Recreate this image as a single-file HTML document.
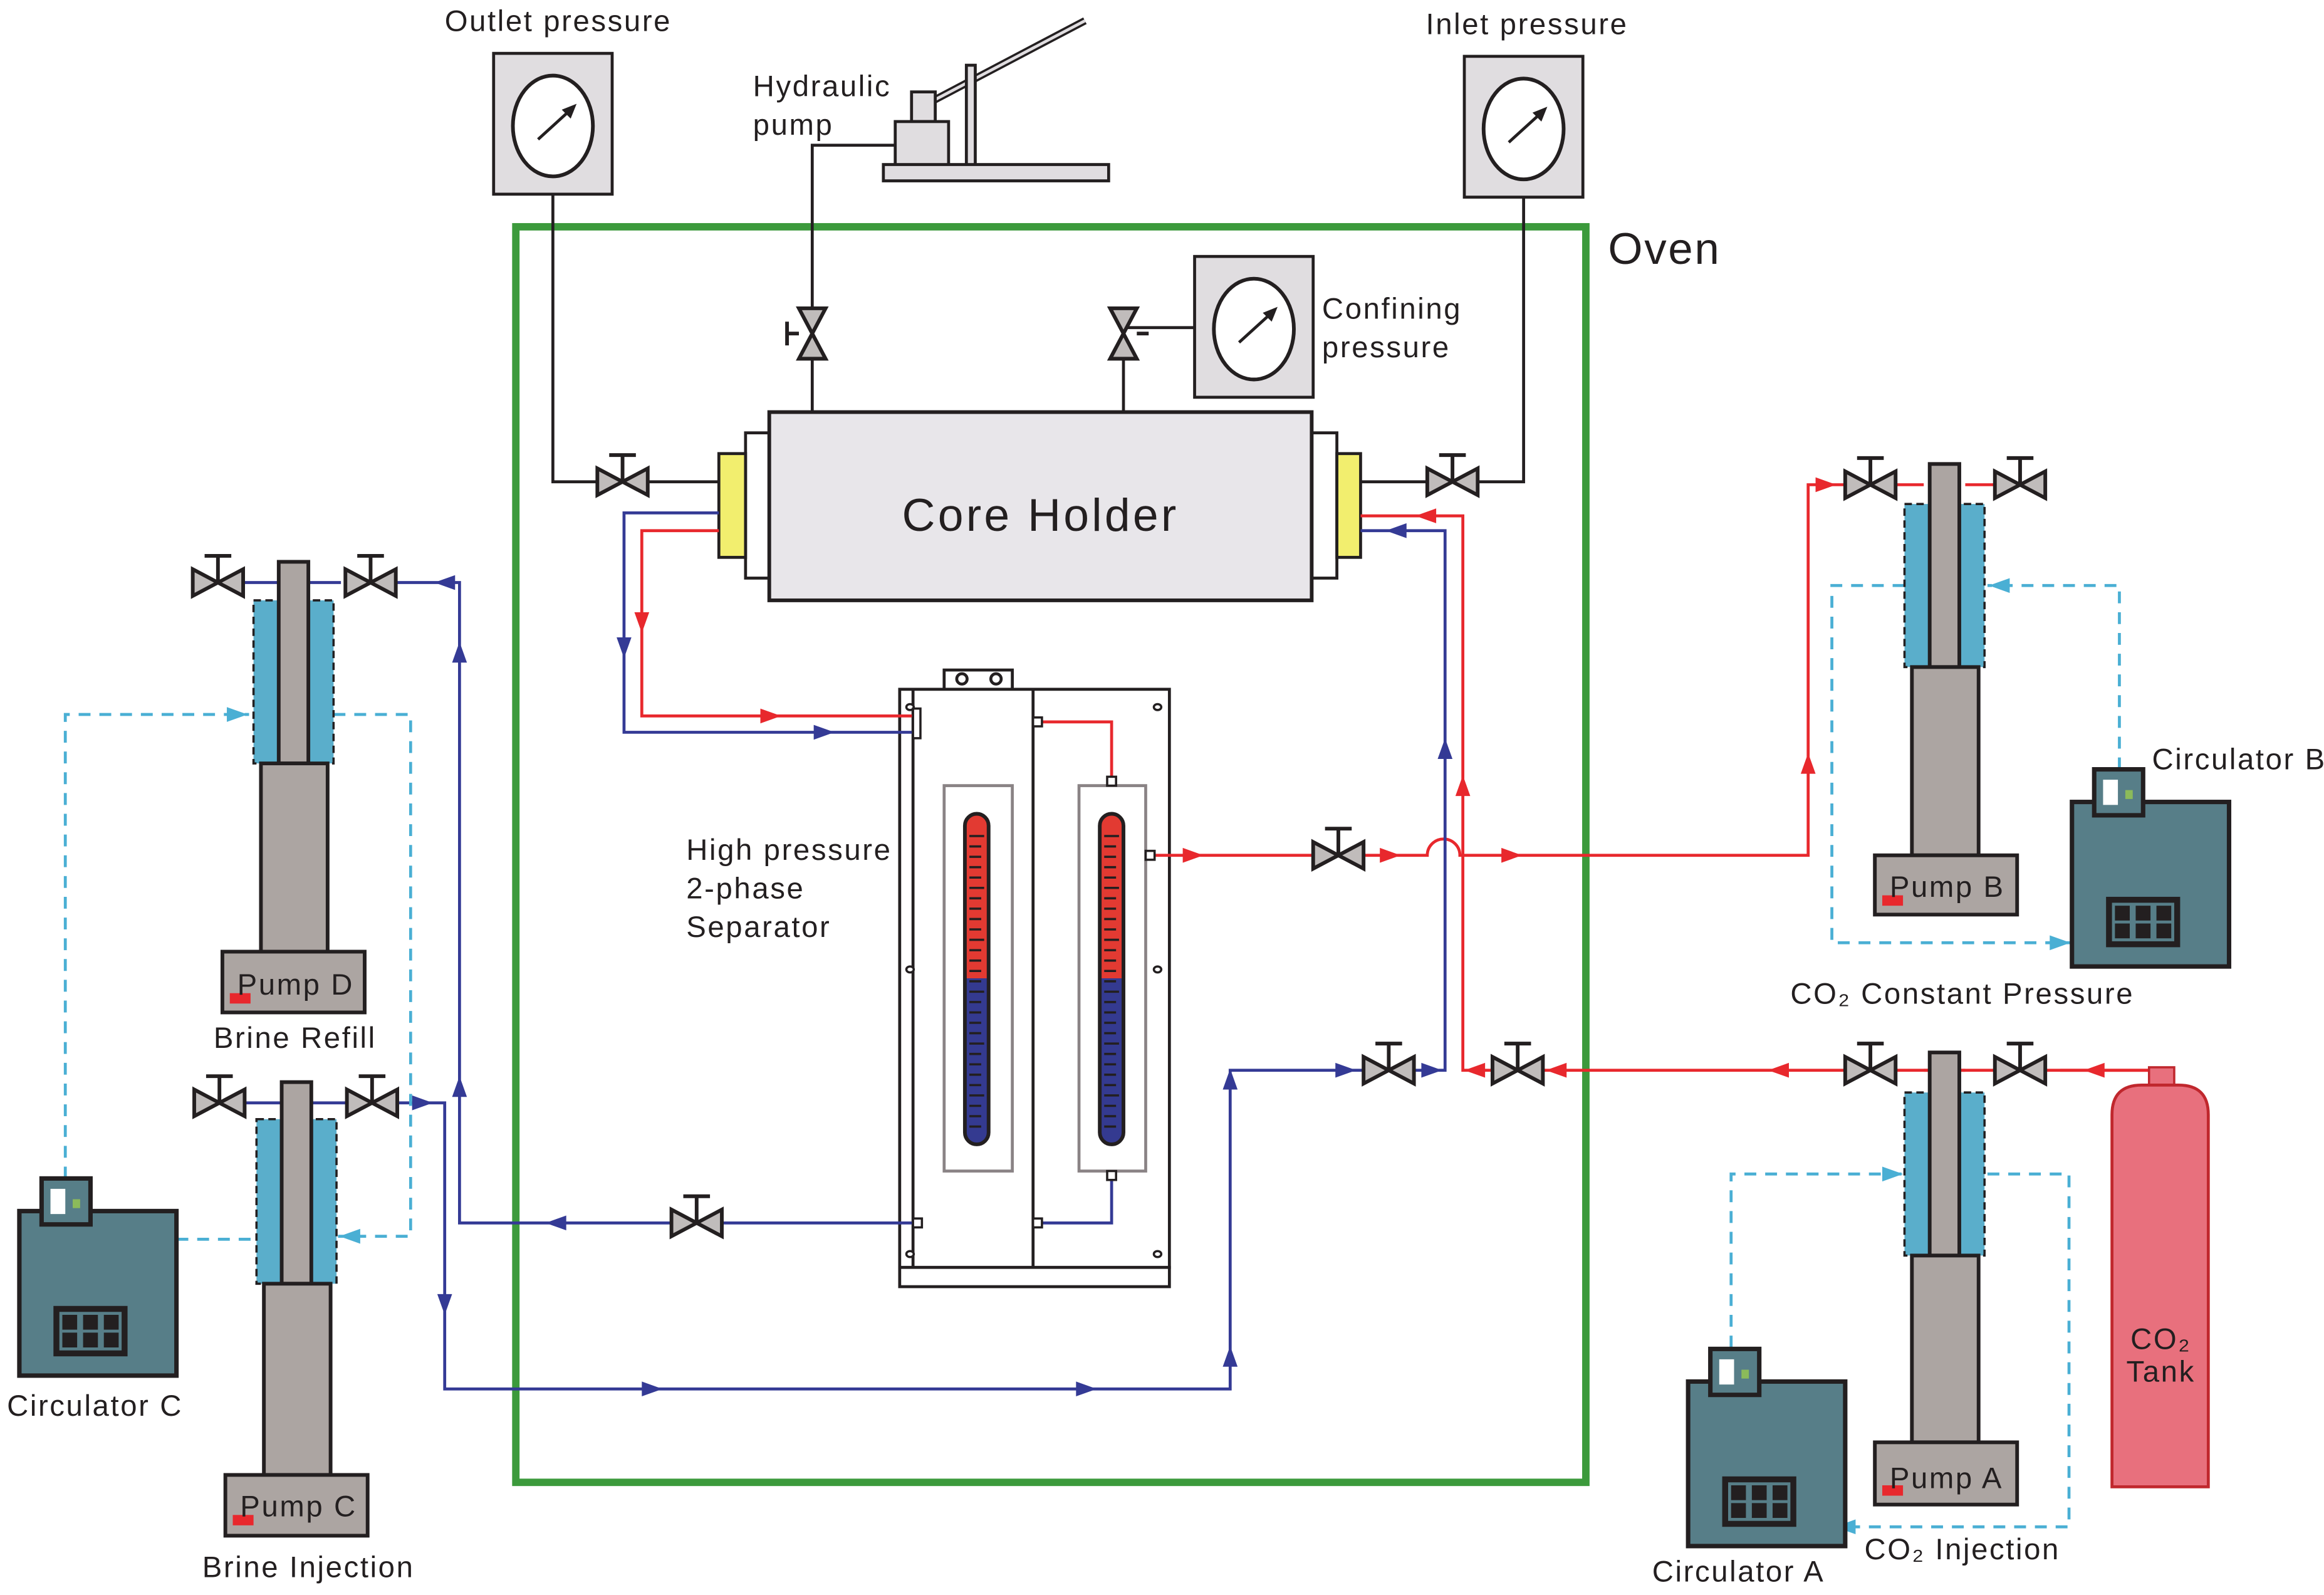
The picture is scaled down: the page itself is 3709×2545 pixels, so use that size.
<!DOCTYPE html>
<html><head><meta charset="utf-8"><style>
html,body{margin:0;padding:0;background:#fff;}
svg{display:block;}
text{font-family:"Liberation Sans",sans-serif;fill:#231f20;letter-spacing:1.1px;}
</style></head><body>
<svg width="3709" height="2545" viewBox="0 0 1568 1076" xmlns="http://www.w3.org/2000/svg">
<defs>
<g id="vh"><path d="M-17,-9 L17,9 L17,-9 L-17,9 Z" fill="#c0bcbb" stroke="#231f20" stroke-width="2.5"/><line x1="0" y1="0" x2="0" y2="-18" stroke="#231f20" stroke-width="2.5"/><line x1="-9" y1="-18" x2="9" y2="-18" stroke="#231f20" stroke-width="2.5"/></g>
<g id="vv"><path d="M-9,-17 L9,17 L-9,17 L9,-17 Z" fill="#c0bcbb" stroke="#231f20" stroke-width="2.5"/></g>
<g id="ar"><path d="M-7,-5 L7,0 L-7,5 Z"/></g>
<g id="circ"><rect x="0" y="22" width="106" height="111" fill="#577e88" stroke="#231f20" stroke-width="3"/><rect x="15" y="0" width="33" height="31" fill="#577e88" stroke="#231f20" stroke-width="3"/><rect x="21" y="7" width="10" height="17" fill="#fff"/><rect x="36" y="14" width="5" height="6" fill="#8cba5a"/><rect x="23" y="86" width="50" height="34" fill="#231f20"/><rect x="27" y="90" width="42" height="26" fill="#577e88"/><g fill="#231f20"><rect x="29" y="92" width="10" height="10"/><rect x="43" y="92" width="10" height="10"/><rect x="57" y="92" width="10" height="10"/><rect x="29" y="104" width="10" height="10"/><rect x="43" y="104" width="10" height="10"/><rect x="57" y="104" width="10" height="10"/></g></g>
<g id="gauge"><rect x="0" y="0" width="80" height="95" fill="#e0dde0" stroke="#231f20" stroke-width="2"/><ellipse cx="40" cy="49" rx="27" ry="34" fill="#fff" stroke="#231f20" stroke-width="2.5"/><line x1="30" y1="58" x2="52" y2="38" stroke="#231f20" stroke-width="2"/><path d="M56,34 L46,38 L52,44 Z" fill="#231f20"/></g>
</defs>

<rect x="348" y="153" width="722" height="847" fill="none" stroke="#3c9a3c" stroke-width="5"/>
<text x="1085" y="178" font-size="30">Oven</text>

<use href="#gauge" x="333" y="36"/>
<use href="#gauge" x="988" y="38"/>
<use href="#gauge" x="806" y="173"/>
<text x="300" y="21" font-size="20">Outlet pressure</text>
<text x="962" y="23" font-size="20">Inlet pressure</text>
<text x="892" y="215" font-size="20">Confining</text>
<text x="892" y="241" font-size="20">pressure</text>

<g stroke="#231f20" stroke-width="2" fill="#e0dde0">
<line x1="618" y1="74" x2="732" y2="14" stroke-width="5"/>
<line x1="618" y1="74" x2="732" y2="14" stroke="#e0dde0" stroke-width="2"/>
<rect x="652" y="44" width="6" height="68"/>
<rect x="615" y="62" width="16" height="20"/>
<rect x="604" y="82" width="36" height="30"/>
<rect x="596" y="111" width="152" height="11"/>
</g>
<text x="508" y="65" font-size="20">Hydraulic</text>
<text x="508" y="91" font-size="20">pump</text>

<g stroke="#231f20" stroke-width="2" fill="none">
<polyline points="373,131 373,325 485,325"/>
<polyline points="1028,133 1028,325 918,325"/>
<polyline points="604,98 548,98 548,278"/>
<polyline points="806,221 758,221 758,278"/>
</g>
<use href="#vh" x="420" y="325"/>
<use href="#vh" x="980" y="325"/>
<use href="#vv" x="548" y="225"/>
<line x1="539" y1="225" x2="531" y2="225" stroke="#231f20" stroke-width="2.5"/><line x1="531" y1="217" x2="531" y2="233" stroke="#231f20" stroke-width="2.5"/>
<use href="#vv" x="758" y="225"/>
<line x1="767" y1="225" x2="775" y2="225" stroke="#231f20" stroke-width="2.5"/>

<rect x="503" y="292" width="16" height="98" fill="#fff" stroke="#231f20" stroke-width="2"/>
<rect x="485" y="306" width="18" height="70" fill="#f2ee6e" stroke="#231f20" stroke-width="2"/>
<rect x="885" y="292" width="17" height="98" fill="#fff" stroke="#231f20" stroke-width="2"/>
<rect x="902" y="306" width="16" height="70" fill="#f2ee6e" stroke="#231f20" stroke-width="2"/>
<rect x="519" y="278" width="366" height="127" fill="#e8e6ea" stroke="#231f20" stroke-width="2.5"/>
<text x="702" y="358" font-size="31" text-anchor="middle" style="letter-spacing:1.8px">Core Holder</text>

<g stroke="#231f20" stroke-width="2" fill="#fff">
<rect x="637" y="452" width="46" height="13"/>
<circle cx="649" cy="458" r="3.5"/><circle cx="672" cy="458" r="3.5"/>
<rect x="607" y="465" width="182" height="390"/>
<rect x="607" y="855" width="182" height="13"/>
<line x1="616" y1="465" x2="616" y2="855"/>
<line x1="697" y1="465" x2="697" y2="855"/>
<rect x="637" y="530" width="46" height="260" stroke="#8a8385"/>
<rect x="728" y="530" width="45" height="260" stroke="#8a8385"/>
</g>
<g fill="#fff" stroke="#231f20" stroke-width="1.5">
<ellipse cx="614" cy="477" rx="2.5" ry="2"/><ellipse cx="614" cy="654" rx="2.5" ry="2"/><ellipse cx="614" cy="846" rx="2.5" ry="2"/>
<ellipse cx="781" cy="477" rx="2.5" ry="2"/><ellipse cx="781" cy="654" rx="2.5" ry="2"/><ellipse cx="781" cy="846" rx="2.5" ry="2"/>
</g>
<g>
<path d="M651,660 V557 a8,8 0 0 1 16,0 V660 Z" fill="#e23a32"/>
<path d="M651,660 V764 a8,8 0 0 0 16,0 V660 Z" fill="#343a90"/>
<rect x="651" y="549" width="16" height="223" rx="8" fill="none" stroke="#231f20" stroke-width="2.5"/>
<path d="M742,660 V557 a8,8 0 0 1 16,0 V660 Z" fill="#e23a32"/>
<path d="M742,660 V764 a8,8 0 0 0 16,0 V660 Z" fill="#343a90"/>
<rect x="742" y="549" width="16" height="223" rx="8" fill="none" stroke="#231f20" stroke-width="2.5"/>
<path d="M654,564h10M654,571h8M654,578h8M654,585h8M654,592h8M654,599h10M654,606h8M654,613h8M654,620h8M654,627h8M654,634h10M654,641h8M654,648h8M654,655h8M654,662h8M654,669h10M654,676h8M654,683h8M654,690h8M654,697h8M654,704h10M654,711h8M654,718h8M654,725h8M654,732h8M654,739h10M654,746h8M654,753h8M654,760h8" stroke="#231f20" stroke-width="1.5"/>
<path d="M745,564h10M745,571h8M745,578h8M745,585h8M745,592h8M745,599h10M745,606h8M745,613h8M745,620h8M745,627h8M745,634h10M745,641h8M745,648h8M745,655h8M745,662h8M745,669h10M745,676h8M745,683h8M745,690h8M745,697h8M745,704h10M745,711h8M745,718h8M745,725h8M745,732h8M745,739h10M745,746h8M745,753h8M745,760h8" stroke="#231f20" stroke-width="1.5"/>
</g>
<text x="463" y="580" font-size="20">High pressure</text>
<text x="463" y="606" font-size="20">2-phase</text>
<text x="463" y="632" font-size="20">Separator</text>

<g stroke="#e8282d" stroke-width="2" fill="none">
<polyline points="485,358 433,358 433,483 616,483"/>
<polyline points="701,487 750,487 750,527"/>
<path d="M776,577 H963 a11,11 0 0 1 22,0 H1220 V327 H1248"/>
<line x1="1276" y1="327" x2="1298" y2="327"/>
<line x1="1326" y1="327" x2="1348" y2="327"/>
<polyline points="1458,722 987,722 987,348 918,348"/>
</g>
<g fill="#e8282d">
<use href="#ar" transform="translate(433,420) rotate(90)"/>
<use href="#ar" x="520" y="483"/>
<use href="#ar" x="805" y="577"/>
<use href="#ar" x="938" y="577"/>
<use href="#ar" x="1020" y="577"/>
<use href="#ar" transform="translate(1220,515) rotate(-90)"/>
<use href="#ar" x="1232" y="327"/>
<use href="#ar" transform="translate(1413,722) rotate(180)"/>
<use href="#ar" transform="translate(1200,722) rotate(180)"/>
<use href="#ar" transform="translate(1050,722) rotate(180)"/>
<use href="#ar" transform="translate(995,722) rotate(180)"/>
<use href="#ar" transform="translate(987,530) rotate(-90)"/>
<use href="#ar" transform="translate(962,348) rotate(180)"/>
</g>

<g stroke="#343a95" stroke-width="2" fill="none">
<polyline points="485,346 421,346 421,494 616,494"/>
<polyline points="616,825 310,825 310,393 265,393"/>
<polyline points="701,825 750,825 750,795"/>
<polyline points="265,744 300,744 300,937 830,937 830,722 975,722 975,358 918,358"/>
<line x1="163" y1="393" x2="230" y2="393"/>
<line x1="165" y1="744" x2="234" y2="744"/>
</g>
<g fill="#343a95">
<use href="#ar" transform="translate(421,437) rotate(90)"/>
<use href="#ar" x="556" y="494"/>
<use href="#ar" transform="translate(375,825) rotate(180)"/>
<use href="#ar" transform="translate(310,440) rotate(-90)"/>
<use href="#ar" transform="translate(310,733) rotate(-90)"/>
<use href="#ar" transform="translate(300,393) rotate(180)"/>
<use href="#ar" x="285" y="744"/>
<use href="#ar" transform="translate(300,880) rotate(90)"/>
<use href="#ar" x="440" y="937"/>
<use href="#ar" x="733" y="937"/>
<use href="#ar" transform="translate(830,915) rotate(-90)"/>
<use href="#ar" transform="translate(830,728) rotate(-90)"/>
<use href="#ar" x="908" y="722"/>
<use href="#ar" x="966" y="722"/>
<use href="#ar" transform="translate(975,505) rotate(-90)"/>
<use href="#ar" transform="translate(942,358) rotate(180)"/>
</g>
<g fill="#fff" stroke="#231f20" stroke-width="1.5">
<rect x="616" y="478" width="5" height="20"/>
<rect x="697" y="484" width="6" height="6"/>
<rect x="747" y="524" width="6" height="6"/>
<rect x="773" y="574" width="6" height="6"/>
<rect x="747" y="790" width="6" height="6"/>
<rect x="697" y="822" width="6" height="6"/>
<rect x="616" y="822" width="6" height="6"/>
</g>

<use href="#vh" x="903" y="577"/>
<use href="#vh" x="937" y="722"/>
<use href="#vh" x="1024" y="722"/>
<use href="#vh" x="470" y="825"/>
<use href="#vh" x="1262" y="327"/>
<use href="#vh" x="1363" y="327"/>
<use href="#vh" x="1262" y="722"/>
<use href="#vh" x="1363" y="722"/>
<use href="#vh" x="147" y="393"/>
<use href="#vh" x="250" y="393"/>
<use href="#vh" x="148" y="744"/>
<use href="#vh" x="251" y="744"/>
<line x1="1390" y1="722" x2="1450" y2="722" stroke="#e8282d" stroke-width="2"/>
<line x1="1298" y1="722" x2="1326" y2="722" stroke="#e8282d" stroke-width="2"/>

<g stroke="#4aafd4" stroke-width="2" fill="none" stroke-dasharray="8,6">
<polyline points="44,795 44,482 168,482"/>
<polyline points="225,482 277,482 277,834 228,834"/>
<line x1="119" y1="836" x2="172" y2="836"/>
<polyline points="1430,519 1430,395 1341,395"/>
<polyline points="1285,395 1236,395 1236,636 1398,636"/>
<polyline points="1168,909 1168,792 1285,792"/>
<polyline points="1341,792 1396,792 1396,1030 1237,1030"/>
</g>
<g fill="#4aafd4">
<use href="#ar" x="160" y="482"/>
<use href="#ar" transform="translate(236,834) rotate(180)"/>
<use href="#ar" transform="translate(1349,395) rotate(180)"/>
<use href="#ar" x="1390" y="636"/>
<use href="#ar" x="1277" y="792"/>
<use href="#ar" transform="translate(1245,1030) rotate(180)"/>
</g>

<g stroke="#231f20" stroke-width="2.5" fill="#aca5a2">
<rect x="171" y="405" width="54" height="110" fill="#5aaecb" stroke-dasharray="5,3" stroke-width="1.5"/>
<rect x="188" y="379" width="20" height="136"/>
<rect x="176" y="515" width="45" height="127"/>
<rect x="150" y="642" width="96" height="41"/>
<rect x="173" y="755" width="54" height="111" fill="#5aaecb" stroke-dasharray="5,3" stroke-width="1.5"/>
<rect x="190" y="730" width="20" height="136"/>
<rect x="178" y="866" width="45" height="129"/>
<rect x="152" y="995" width="96" height="41"/>
<rect x="1285" y="340" width="54" height="110" fill="#5aaecb" stroke-dasharray="5,3" stroke-width="1.5"/>
<rect x="1302" y="313" width="20" height="137"/>
<rect x="1290" y="450" width="45" height="127"/>
<rect x="1265" y="577" width="96" height="40"/>
<rect x="1285" y="737" width="54" height="110" fill="#5aaecb" stroke-dasharray="5,3" stroke-width="1.5"/>
<rect x="1302" y="710" width="20" height="137"/>
<rect x="1290" y="847" width="45" height="126"/>
<rect x="1265" y="973" width="96" height="42"/>
</g>
<g fill="#e8282d">
<rect x="155" y="670" width="14" height="7"/>
<rect x="157" y="1022" width="14" height="7"/>
<rect x="1270" y="604" width="14" height="7"/>
<rect x="1270" y="1002" width="14" height="7"/>
</g>
<text x="160" y="671" font-size="20">Pump D</text>
<text x="162" y="1023" font-size="20">Pump C</text>
<text x="1275" y="605" font-size="20">Pump B</text>
<text x="1275" y="1004" font-size="20">Pump A</text>
<text x="199" y="707" font-size="20" text-anchor="middle">Brine Refill</text>
<text x="208" y="1064" font-size="20" text-anchor="middle">Brine Injection</text>

<use href="#circ" x="13" y="795"/>
<use href="#circ" x="1398" y="519"/>
<use href="#circ" x="1139" y="910"/>
<text x="64" y="955" font-size="20" text-anchor="middle">Circulator C</text>
<text x="1452" y="519" font-size="20">Circulator B</text>
<text x="1173" y="1067" font-size="20" text-anchor="middle">Circulator A</text>
<text x="1324" y="677" font-size="20" text-anchor="middle">CO₂ Constant Pressure</text>
<text x="1324" y="1052" font-size="20" text-anchor="middle">CO₂ Injection</text>

<rect x="1450" y="720" width="17" height="12" fill="#e8707d" stroke="#c0272d" stroke-width="1.5"/>
<path d="M1425,1003 V752 Q1425,732 1445,732 H1470 Q1490,732 1490,752 V1003 Z" fill="#e8707d" stroke="#c0272d" stroke-width="2"/>
<text x="1458" y="910" font-size="20" text-anchor="middle">CO₂</text>
<text x="1458" y="932" font-size="20" text-anchor="middle">Tank</text>
</svg>
</body></html>
